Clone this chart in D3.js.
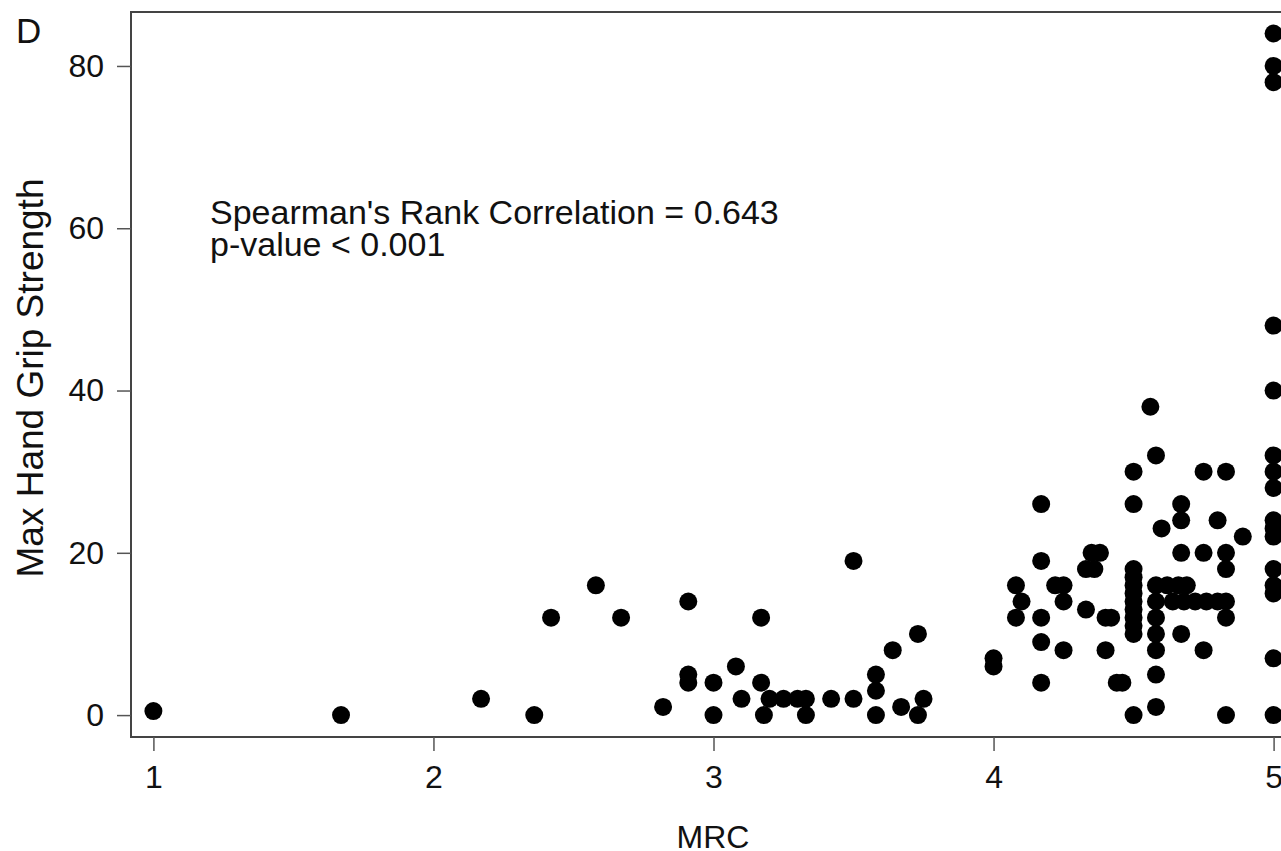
<!DOCTYPE html>
<html>
<head>
<meta charset="utf-8">
<script src="https://cdn.jsdelivr.net/npm/d3@7"></script>
<style>
  body { margin: 0; background: #fff; }
  svg { display: block; }
  text { font-family: "Liberation Sans", Arial, sans-serif; fill: #111; }
</style>
</head>
<body>
<svg id="chart" width="1281" height="851"></svg>
<script>
// MRC score (x) and max hand grip strength (y)
const mrc = [
  1.00, 1.67, 2.17, 2.36, 2.42, 2.58, 2.67, 2.82, 2.91, 2.91, 2.91, 3.00, 3.00, 3.08, 3.10, 3.17, 3.17, 3.18,
  3.20, 3.25, 3.30, 3.33, 3.42, 3.50, 3.33, 3.50,
  3.58, 3.58, 3.58, 3.64, 3.67, 3.73, 3.75, 3.73,
  4.00, 4.00, 4.08, 4.10, 4.08,
  4.17, 4.17, 4.17, 4.17, 4.17,
  4.22, 4.25, 4.25, 4.25, 4.33, 4.33, 4.36, 4.35, 4.38, 4.40, 4.42, 4.40, 4.44, 4.46,
  4.50, 4.50, 4.50, 4.50, 4.50, 4.50, 4.50, 4.50, 4.50, 4.50, 4.50, 4.50,
  4.56, 4.58, 4.58, 4.58, 4.58, 4.58, 4.58, 4.58, 4.58,
  4.62, 4.66, 4.69, 4.60,
  4.67, 4.67, 4.67, 4.67,
  4.64, 4.68, 4.72, 4.76, 4.80,
  4.75, 4.75, 4.75, 4.80, 4.83, 4.83, 4.83, 4.83, 4.83, 4.83, 4.89,
  5.00, 5.00, 5.00, 5.00, 5.00, 5.00, 5.00, 5.00, 5.00, 5.00, 5.00, 5.00, 5.00, 5.00, 5.00, 5.00
];
const grip = [
  0.5, 0, 2, 0, 12, 16, 12, 1, 14, 5, 4, 4, 0, 6, 2, 12, 4, 0,
  2, 2, 2, 2, 2, 2, 0, 19,
  5, 3, 0, 8, 1, 10, 2, 0,
  7, 6, 16, 14, 12,
  26, 19, 12, 9, 4,
  16, 16, 14, 8, 13, 18, 18, 20, 20, 12, 12, 8, 4, 4,
  30, 26, 18, 17, 16, 15, 14, 13, 12, 11, 10, 0,
  38, 32, 16, 14, 12, 10, 8, 5, 1,
  16, 16, 16, 23,
  26, 24, 20, 10,
  14, 14, 14, 14, 14,
  30, 20, 8, 24, 30, 20, 18, 14, 12, 0, 22,
  84, 80, 78, 48, 40, 32, 30, 28, 24, 23, 22, 18, 16, 15, 7, 0
];

const xTicks = [1, 2, 3, 4, 5];
const yTicks = [0, 20, 40, 60, 80];
const panelLabel = "D";
const xLabel = "MRC";
const yLabel = "Max Hand Grip Strength";
const noteLines = ["Spearman's Rank Correlation = 0.643", "p-value < 0.001"];

const svg = d3.select("#chart");
const plot = {left: 131, right: 1296, top: 12, bottom: 737};

// the frame runs a little past the data on each side
const x = d3.scaleLinear().domain([0.92, 5.08]).range([plot.left, plot.right]);
const y = d3.scaleLinear().domain([-2.7, 86.65]).range([plot.bottom, plot.top]);

svg.append("rect")
    .attr("x", plot.left)
    .attr("y", plot.top)
    .attr("width", plot.right - plot.left)
    .attr("height", plot.bottom - plot.top)
    .attr("fill", "none")
    .attr("stroke", "#444")
    .attr("stroke-width", 2);

const xAxis = svg.append("g")
    .attr("transform", "translate(0," + plot.bottom + ")")
    .call(d3.axisBottom(x).tickValues(xTicks).tickFormat(d3.format("d"))
        .tickSize(14).tickPadding(14).tickSizeOuter(0));

const yAxis = svg.append("g")
    .attr("transform", "translate(" + plot.left + ",0)")
    .call(d3.axisLeft(y).tickValues(yTicks).tickFormat(d3.format("d"))
        .tickSize(14).tickPadding(13).tickSizeOuter(0));

[xAxis, yAxis].forEach(function(g) {
    g.select(".domain").remove();
    g.selectAll(".tick line").attr("stroke", "#555").attr("stroke-width", 1.5);
    g.selectAll(".tick text")
        .style("font-family", "'Liberation Sans', Arial, sans-serif")
        .style("font-size", "32px")
        .attr("fill", "#111");
});

svg.append("g")
    .selectAll("circle")
    .data(mrc.map(function(m, i) { return {m: m, g: grip[i]}; }))
    .enter().append("circle")
    .attr("cx", function(d) { return x(d.m); })
    .attr("cy", function(d) { return y(d.g); })
    .attr("r", 9)
    .attr("fill", "#000");

svg.append("text")
    .attr("x", 16)
    .attr("y", 43)
    .style("font-size", "35px")
    .text(panelLabel);

svg.append("text")
    .attr("x", 713)
    .attr("y", 848)
    .attr("text-anchor", "middle")
    .style("font-size", "32px")
    .text(xLabel);

svg.append("text")
    .attr("transform", "translate(43," + 378 + ") rotate(-90)")
    .attr("text-anchor", "middle")
    .style("font-size", "37px")
    .text(yLabel);

svg.append("g").selectAll("text")
    .data(noteLines)
    .enter().append("text")
    .attr("x", 210)
    .attr("y", function(d, i) { return 224 + i * 32; })
    .style("font-size", "34px")
    .text(function(d) { return d; });
</script>
</body>
</html>
